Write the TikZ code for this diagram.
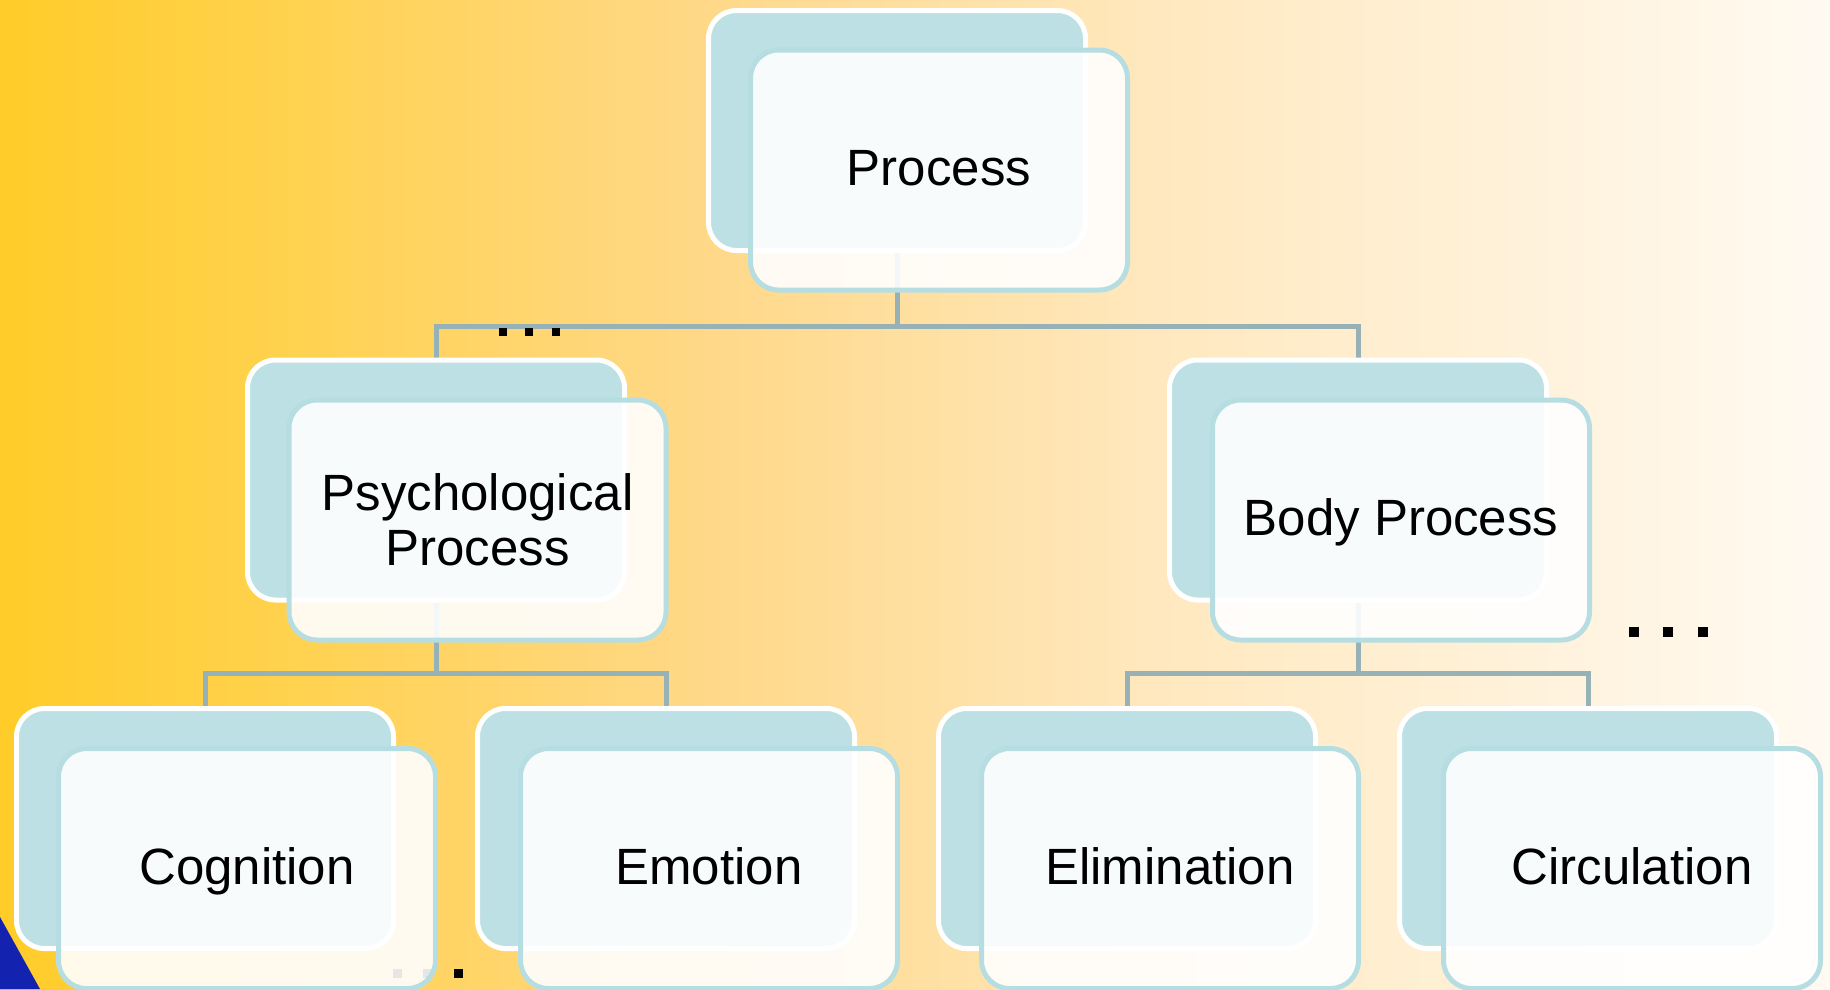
\documentclass[tikz,border=0pt]{standalone}
\usepackage{fontspec}
\setmainfont{Liberation Sans}
\definecolor{bgA}{RGB}{255,204,40}
\definecolor{bgB}{RGB}{255,210,80}
\definecolor{bgC}{RGB}{255,216,135}
\definecolor{bgD}{RGB}{255,232,190}
\definecolor{bgE}{RGB}{255,250,242}
\definecolor{backteal}{RGB}{188,224,227}
\definecolor{frontteal}{RGB}{182,221,225}
\definecolor{connc}{RGB}{150,178,182}
\definecolor{triblue}{RGB}{20,35,175}
\pgfdeclarehorizontalshading{bgshade}{100bp}{color(0bp)=(bgA); color(25bp)=(bgA); color(33.2bp)=(bgB); color(44.13bp)=(bgC); color(56.42bp)=(bgD); color(75bp)=(bgE); color(100bp)=(bgE)}
\pgfdeclarelayer{bglayer}
\pgfsetlayers{bglayer,main}
\begin{document}
\begin{tikzpicture}[x=1pt,y=-1pt,
  backbox/.style={rectangle, rounded corners=28pt, fill=backteal, draw=white, line width=5pt, minimum width=377pt, minimum height=240pt, inner sep=0pt},
  frontbox/.style={rectangle, rounded corners=28pt, fill=white, fill opacity=0.9, text opacity=1, draw=frontteal, draw opacity=1, line width=5pt, minimum width=377pt, minimum height=240pt, inner sep=0pt, align=center, text height=42pt, text depth=11pt, font=\fontsize{51}{55}\selectfont},
  conn/.style={draw=connc, line width=5pt},
  dotsq/.style={rectangle, fill=black, inner sep=0pt, minimum size=#1},
  dotsq/.default=8pt]
\useasboundingbox (0,0) rectangle (1830,989);

% back boxes
\node[backbox] (procB) at (897,130.5) {};
\node[backbox] (psyB) at (436,480) {};
\node[backbox] (bodyB) at (1358,480) {};
\node[backbox] (cogB) at (205,828.5) {};
\node[backbox] (emoB) at (666,828.5) {};
\node[backbox] (elimB) at (1127,828.5) {};
\node[backbox] (circB) at (1588,828.5) {};

% bus coordinates
\coordinate (bus1) at (897,326);
\coordinate (bus2) at (436,673);
\coordinate (bus3) at (1358,673);

\begin{pgfonlayer}{bglayer}
\shade[shading=bgshade] (0,0) rectangle (1830,989);
\fill[triblue] (0,917) -- (0,989) -- (40,989) -- cycle;
\draw[conn] (procB.south) -- (bus1) -| (psyB.north);
\draw[conn] (bus1) -| (bodyB.north);
\draw[conn] (psyB.south) -- (bus2) -| (cogB.north);
\draw[conn] (bus2) -| (emoB.north);
\draw[conn] (bodyB.south) -- (bus3) -| (elimB.north);
\draw[conn] (bus3) -| (circB.north);
\end{pgfonlayer}

% dots
\node[dotsq] (d1) at (503,332) {};
\node[dotsq] (d2) at (529,332) {};
\node[dotsq] (d3) at (556,332) {};
\node[dotsq=10pt] (d4) at (1634,632) {};
\node[dotsq=10pt] (d5) at (1668,632) {};
\node[dotsq=10pt] (d6) at (1703,632) {};
\node[dotsq=9pt] (d7) at (397,973) {};
\node[dotsq=9pt] (d8) at (427,973) {};
\node[dotsq=9pt] (d9) at (458,973) {};

% front boxes
\node[frontbox] (procF) at (939,170) {Process};
\node[frontbox, text height={}, text depth={}] (psyF) at (477.5,520) {Psychological\\Process};
\node[frontbox] (bodyF) at (1401,520) {Body Process};
\node[frontbox] (cogF) at (247,868.5) {Cognition};
\node[frontbox] (emoF) at (709,868.5) {Emotion};
\node[frontbox] (elimF) at (1170,868.5) {Elimination};
\node[frontbox] (circF) at (1632,868.5) {Circulation};
\end{tikzpicture}
\end{document}
